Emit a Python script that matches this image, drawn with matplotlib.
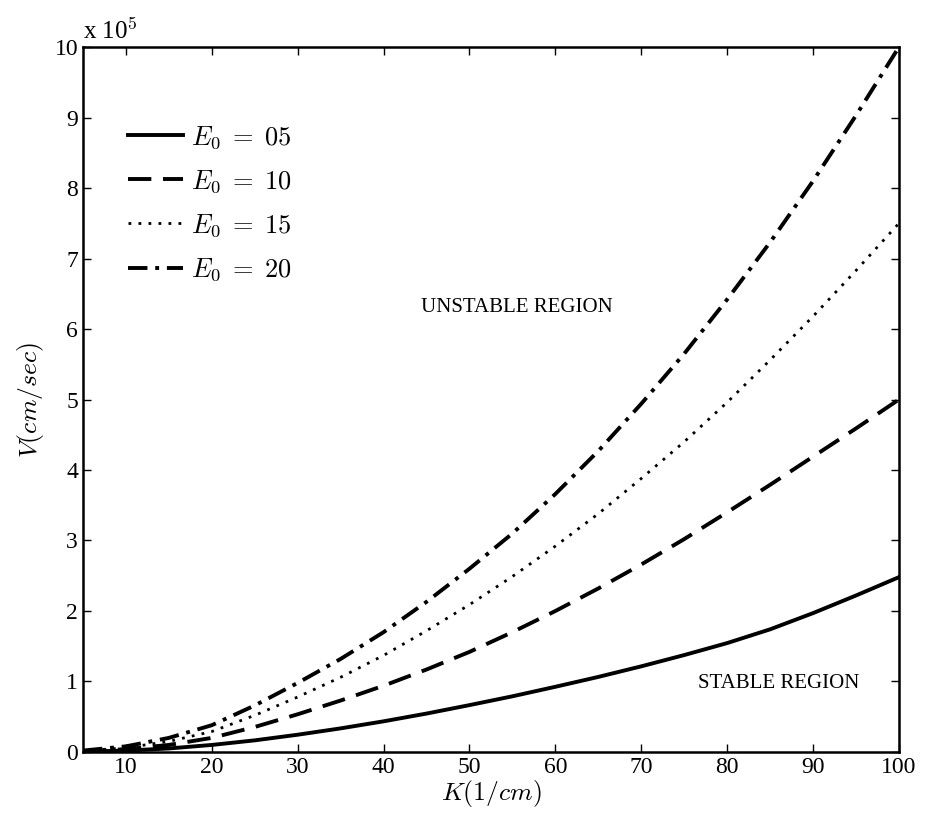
import matplotlib
matplotlib.use("Agg")
import matplotlib.pyplot as plt

plt.rcParams['font.family'] = ['Liberation Serif', 'DejaVu Serif']
plt.rcParams['mathtext.fontset'] = 'cm'

K = [5, 10, 15, 20, 25, 30, 35, 40, 45, 50, 55, 60, 65, 70, 75, 80, 85, 90, 95, 100]
V_E05 = [0.005, 0.02, 0.05, 0.10, 0.165, 0.245, 0.335, 0.435, 0.545, 0.665, 0.79, 0.925, 1.065, 1.215, 1.375, 1.545, 1.74, 1.97, 2.22, 2.48]
V_E10 = [0.01, 0.04, 0.10, 0.20, 0.355, 0.535, 0.73, 0.94, 1.17, 1.42, 1.70, 2.00, 2.32, 2.66, 3.02, 3.40, 3.79, 4.19, 4.59, 5.00]
V_E15 = [0.015, 0.06, 0.15, 0.29, 0.52, 0.78, 1.06, 1.37, 1.72, 2.09, 2.49, 2.92, 3.38, 3.88, 4.40, 4.96, 5.56, 6.18, 6.83, 7.50]
V_E20 = [0.02, 0.08, 0.20, 0.38, 0.66, 0.98, 1.32, 1.70, 2.13, 2.60, 3.10, 3.66, 4.27, 4.94, 5.65, 6.42, 7.23, 8.10, 9.03, 10.0]
labels = [r'$E_0\;=\;05$', r'$E_0\;=\;10$', r'$E_0\;=\;15$', r'$E_0\;=\;20$']
xticks = [10, 20, 30, 40, 50, 60, 70, 80, 90, 100]
yticks = [0, 1, 2, 3, 4, 5, 6, 7, 8, 9, 10]

fig = plt.figure(figsize=(9.26, 8.25), dpi=100)
ax = fig.add_axes([0.0896, 0.0885, 0.9708 - 0.0896, 0.943 - 0.0885])

ax.plot(K, V_E05, color='black', lw=2.8, linestyle='-', label=labels[0])
ax.plot(K, V_E10, color='black', lw=2.8, linestyle=(0, (6, 3)), label=labels[1])
ax.plot(K, V_E15, color='black', lw=2.0, linestyle=(0, (1, 2.6)), label=labels[2])
ax.plot(K, V_E20, color='black', lw=2.8, linestyle=(0, (5, 2, 1, 2)), label=labels[3])

ax.set_xlim(5, 100)
ax.set_ylim(0, 10)
ax.set_xticks(xticks)
ax.set_yticks(yticks)
ax.tick_params(direction='in', top=True, right=True, labelsize=17, length=6, width=1)
for s in ax.spines.values():
    s.set_linewidth(1.8)

ax.set_xlabel(r'$K(1/cm)$', fontsize=18.5, labelpad=0)
ax.set_ylabel(r'$V(cm/sec)$', fontsize=18.5, labelpad=6)

ax.text(0.0, 1.005, r'x 10$^5$', transform=ax.transAxes, fontsize=18, ha='left', va='bottom')

ax.text(55.5, 6.3, 'UNSTABLE REGION', fontsize=15, ha='center', va='center')
ax.text(86.0, 0.97, 'STABLE REGION', fontsize=15, ha='center', va='center')

ax.legend(loc='upper left', bbox_to_anchor=(0.055, 0.891), frameon=False, fontsize=19,
          handlelength=2.1, handletextpad=0.3, labelspacing=0.66, borderaxespad=0, borderpad=0)

fig.savefig('out.png', dpi=100)
